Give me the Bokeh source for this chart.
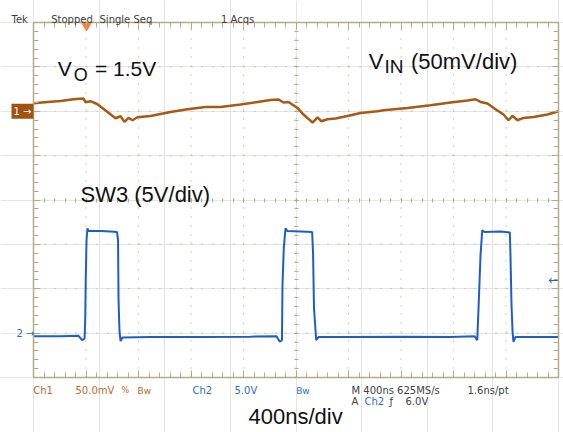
from bokeh.plotting import figure
from bokeh.models import Range1d, LinearAxis, FixedTicker, Label
from bokeh.embed import file_html
from bokeh.resources import INLINE

# ---------------- data ----------------
# Ch1 (V_IN ripple), time in ns, value in mV relative to ch1 ground marker
ch1_t = [0, 107, 206, 305, 381, 396, 434, 488, 564, 625, 663, 693, 724, 754, 792, 891,
         1044, 1173, 1310, 1425, 1577, 1707, 1806, 1867, 1905, 1943, 2011, 2057, 2126,
         2164, 2194, 2240, 2301, 2392, 2491, 2621, 2667, 2850, 3025, 3177, 3307, 3368,
         3406, 3459, 3520, 3581, 3619, 3650, 3688, 3733, 3810, 3916, 4000]
ch1_mv = [9.0, 10.5, 11.6, 13.5, 14.3, 10.1, 11.3, 7.9, -0.8, -7.9, -5.6, -12.0, -7.5, -10.1,
          -6.8, -5.3, -0.8, 2.3, 4.8, 4.8, 7.5, 10.5, 12.7, 13.2, 9.8, 10.5, 3.7, -3.7, -12.7,
          -6.8, -11.3, -9.0, -8.2, -5.3, -1.9, 0.0, 1.1, 3.7, 6.8, 9.8, 12.0, 13.5, 10.5, 8.7,
          2.3, -3.7, -10.1, -5.3, -10.1, -7.5, -6.4, -3.7, 0.0]

# Ch2 (SW3 switch node), time in ns, value in V
ch2_t = [0, 206, 343, 371, 389, 394, 398, 404, 411, 419, 510, 587, 636, 644, 648, 655, 663,
         678, 891, 1272, 1653, 1851, 1877, 1893, 1897, 1907, 1920, 1935, 2034, 2123, 2130,
         2137, 2154, 2171, 2415, 2796, 3177, 3360, 3381, 3393, 3406, 3419, 3436, 3558, 3629,
         3634, 3642, 3650, 3657, 3672, 4000]
ch2_v = [-0.34, -0.34, -0.3, -0.79, -0.6, 1.5, 6.0, 10.5, 11.8, 11.5, 11.5, 11.45, 11.4, 10.5,
         3.7, 0.3, -0.9, -0.5, -0.45, -0.45, -0.4, -0.34, -0.98, -0.8, 5.4, 9.6, 11.8, 11.5,
         11.45, 11.4, 9.0, 2.8, -0.79, -0.45, -0.45, -0.4, -0.45, -0.34, -0.79, 3.7, 8.8, 11.6,
         11.4, 11.45, 11.35, 8.8, 3.15, 0.15, -0.98, -0.45, -0.45]

trigger_time_ns = [404]
trigger_level_v = 6.0

time_span_ns = 4000
divs_x, divs_y = 10, 8
ch1_mv_per_div, ch1_zero_div = 50, 6
ch2_v_per_div, ch2_zero_div = 5, 1

# ---------------- layout / styling ----------------
TAN = "#B3AB86"
DOT = "#B8AE86"
BROWN = "#A65A14"
BLUE = "#1F5DC6"
BROWN_TXT = "#B26E2E"
BLUE_TXT = "#2E6DD0"
DARK_TXT = "#404040"

W, H = 563, 432
GL, GR, GT, GB = 33, 558, 22, 377   # graticule edges in canvas pixels

x_lo = (0 - GL) / (GR - GL) * time_span_ns
x_hi = (W - GL) / (GR - GL) * time_span_ns
y_lo = (GB - H) / (GB - GT) * divs_y
y_hi = (GB - 0) / (GB - GT) * divs_y

p = figure(width=W, height=H, output_backend="svg", toolbar_location=None,
           x_range=Range1d(x_lo, x_hi), y_range=Range1d(y_lo, y_hi),
           x_axis_location=None, y_axis_location=None,
           min_border=0, min_border_left=0, min_border_right=0,
           min_border_top=0, min_border_bottom=0)
p.extra_y_ranges = {
    "ch1": Range1d((y_lo - ch1_zero_div) * ch1_mv_per_div, (y_hi - ch1_zero_div) * ch1_mv_per_div),
    "ch2": Range1d((y_lo - ch2_zero_div) * ch2_v_per_div, (y_hi - ch2_zero_div) * ch2_v_per_div),
}
p.background_fill_color = "white"
p.border_fill_color = "white"
p.outline_line_color = None

div_ns = time_span_ns / divs_x
major_x = [div_ns * i for i in range(divs_x + 1)]
minor_x = [div_ns * i / 5 for i in range(divs_x * 5 + 1)]
major_y = list(range(divs_y + 1))
minor_y = [i / 5 for i in range(divs_y * 5 + 1)]

# dotted graticule lines (inside the graticule only)
inner_x = major_x[1:-1]
inner_y = major_y[1:-1]
p.segment(x0=inner_x, y0=[0] * len(inner_x), x1=inner_x, y1=[divs_y] * len(inner_x),
          line_color=DOT, line_width=1.2, line_dash="1 8 1 8 1 8 1 8 1 8 1 8 1 8 1 7")
p.segment(x0=[0] * len(inner_y), y0=inner_y, x1=[time_span_ns] * len(inner_y), y1=inner_y,
          line_color=DOT, line_width=1.2, line_dash="1 10 1 9")


def tick_axis(loc, fixed, horiz, tin, mtin, line=True):
    ticks, minors = (major_x, minor_x) if horiz else (major_y, minor_y)
    ax = LinearAxis(ticker=FixedTicker(ticks=ticks, minor_ticks=minors),
                    fixed_location=fixed,
                    bounds=(0, time_span_ns) if horiz else (0, divs_y),
                    axis_line_color=TAN if line else None, axis_line_width=1.5,
                    major_tick_line_color=TAN, minor_tick_line_color=TAN,
                    major_tick_in=tin, major_tick_out=0,
                    minor_tick_in=mtin, minor_tick_out=0,
                    major_label_text_font_size="0px", major_label_text_alpha=0,
                    major_label_standoff=0)
    p.add_layout(ax, loc)


# graticule border with inward ticks
tick_axis("below", 0, True, 7, 5)
tick_axis("above", divs_y, True, 7, 5)
tick_axis("left", 0, False, 7, 5)
tick_axis("right", time_span_ns, False, 7, 5)
# centre crosshair ticks (both sides)
tick_axis("below", divs_y / 2, True, 2, 2, line=False)
tick_axis("above", divs_y / 2, True, 2, 2, line=False)
tick_axis("left", time_span_ns / 2, False, 2, 2, line=False)
tick_axis("right", time_span_ns / 2, False, 2, 2, line=False)

# traces
p.line(ch1_t, ch1_mv, y_range_name="ch1", line_color=BROWN, line_width=2.5)
p.line(ch2_t, ch2_v, y_range_name="ch2", line_color=BLUE, line_width=2)

# trigger position marker
p.scatter(trigger_time_ns, [divs_y - 0.06], marker="inverted_triangle", size=10,
          fill_color="#FF7A2A", line_color="#FF7A2A")


# helpers: canvas pixel -> data coordinates for text placement
def X(px):
    return (px - GL) / (GR - GL) * time_span_ns


def Y(py):
    return (GB - py) / (GB - GT) * divs_y


def txt(text, px, py, size, color, font="Liberation Sans", **kw):
    p.add_layout(Label(x=X(px), y=Y(py), text=text, text_font=font,
                       text_font_size=f"{size}px", text_color=color,
                       text_baseline="alphabetic", **kw))


# status line (top)
SF = "DejaVu Sans"
txt("Tek", 11, 18.5, 10, DARK_TXT, SF)
txt("Stopped", 50.7, 18.5, 10, DARK_TXT, SF)
txt("Single Seq", 99, 18.5, 10, DARK_TXT, SF)
txt("1 Acqs", 220.5, 18.5, 10, DARK_TXT, SF)

# status lines (bottom)
txt("Ch1", 32.7, 390, 10, BROWN_TXT, SF)
txt("50.0mV", 75, 390, 10, BROWN_TXT, SF)
txt("%", 121, 390, 8, BROWN_TXT, SF)
txt("Bw", 137, 390, 9, BROWN_TXT, SF)
txt("Ch2", 192, 390, 10, BLUE_TXT, SF)
txt("5.0V", 234, 390, 10, BLUE_TXT, SF)
txt("Bw", 295.7, 390, 9, BLUE_TXT, SF)
txt("M 400ns 625MS/s", 351, 390, 10, DARK_TXT, SF)
txt("1.6ns/pt", 467, 390, 10, DARK_TXT, SF)
txt("A", 351, 400.5, 10, DARK_TXT, SF)
txt("Ch2", 364, 400.5, 10, BLUE_TXT, SF)
txt("ƒ", 389, 400.5, 10, DARK_TXT, SF)
txt("6.0V", 405, 400.5, 10, DARK_TXT, SF)

# annotations
txt("V", 57.3, 68.3, 21, "#111111")
txt("O", 73.3, 74.3, 18, "#111111")
txt("= 1.5V", 94.5, 68.3, 21, "#111111")
txt("V", 368.3, 61, 22, "#111111")
txt("IN", 384, 66, 19, "#111111")
txt("(50mV/div)", 410.5, 61, 22, "#111111")
txt("SW3 (5V/div)", 80, 194, 22, "#111111")
txt("400ns/div", 248, 416, 22, "#111111")

# channel ground markers and trigger level arrow
p.add_layout(Label(x=X(11), y=0, y_range_name="ch1", text="1 →", text_font=SF,
                   text_font_size="10px", text_color="white", text_baseline="middle",
                   background_fill_color="#A0520F", padding=2))
p.add_layout(Label(x=X(16), y=0, y_range_name="ch2", text="2 →", text_font=SF,
                   text_font_size="10px", text_color=BLUE_TXT, text_baseline="middle"))
p.add_layout(Label(x=time_span_ns, y=trigger_level_v, y_range_name="ch2", text="←",
                   text_font=SF, text_font_size="12px", text_color=BLUE,
                   text_align="right", text_baseline="middle"))

open("out.html", "w").write(file_html(p, INLINE))
